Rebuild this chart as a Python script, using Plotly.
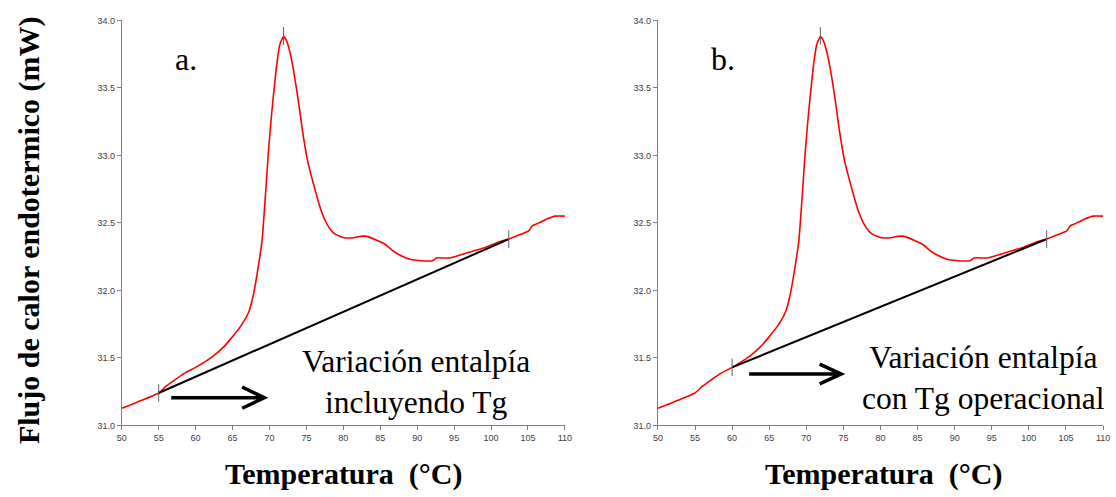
import plotly.graph_objects as go

# ---- data ----
temp = [50, 52, 55, 56, 57, 58.3, 60, 62.3, 63.6, 64.9, 66.3, 67.2, 67.8, 68.5, 69.0, 69.4,
        69.85, 70.3, 70.7, 71.05, 71.4, 71.9, 72.3, 72.75, 73.2, 73.9, 74.5, 75.2, 76.1, 77.0,
        77.9, 78.8, 80.1, 81.4, 82.3, 83.2, 84.6, 85.7, 86.8, 87.7, 89.0, 90.4, 92.1, 92.6,
        94.4, 95.7, 97.5, 99.3, 101.1, 102.4, 103.75, 105.1, 105.6, 106.5, 107.6, 108.7, 110]
flux = [31.126, 31.17, 31.24, 31.29, 31.33, 31.38, 31.43, 31.51, 31.57, 31.65, 31.75, 31.84,
        31.96, 32.18, 32.37, 32.66, 33.02, 33.31, 33.53, 33.70, 33.82, 33.88, 33.85, 33.77,
        33.65, 33.41, 33.17, 32.95, 32.76, 32.59, 32.48, 32.42, 32.39, 32.39, 32.40, 32.40,
        32.37, 32.34, 32.29, 32.26, 32.23, 32.22, 32.22, 32.24, 32.24, 32.26, 32.29, 32.32,
        32.36, 32.38, 32.41, 32.44, 32.48, 32.50, 32.53, 32.55, 32.55]

baseline_a_x = [55, 102.4]
baseline_a_y = [31.24, 32.38]
baseline_b_x = [60, 102.4]
baseline_b_y = [31.43, 32.38]
peak_x = 71.9
peak_y = 33.87

x_ticks = list(range(50, 111, 5))
y_ticks = [31.0, 31.5, 32.0, 32.5, 33.0, 33.5, 34.0]
panel_labels = ["a.", "b."]
notes = ["Variación entalpía<br>incluyendo Tg", "Variación entalpía<br>con Tg operacional"]
x_title = "Temperatura  (°C)"
y_title = "Flujo de calor endotermico (mW)"

W, H = 1116, 497
def px(x):
    return x / W
def py(y):
    return 1 - y / H

fig = go.Figure()

RED = "#ff0000"
TICKGRAY = "#606060"
half = 0.065

for i, (bx, by) in enumerate([(baseline_a_x, baseline_a_y), (baseline_b_x, baseline_b_y)]):
    xa = "x" if i == 0 else "x2"
    ya = "y" if i == 0 else "y2"
    fig.add_trace(go.Scatter(x=temp, y=flux, mode="lines", xaxis=xa, yaxis=ya,
                             line=dict(color=RED, width=1.6, shape="spline", smoothing=0.5),
                             showlegend=False, hoverinfo="skip"))
    fig.add_trace(go.Scatter(x=bx, y=by, mode="lines", xaxis=xa, yaxis=ya,
                             line=dict(color="black", width=2), showlegend=False, hoverinfo="skip"))
    mx, my = [], []
    for (tx, ty) in [(bx[0], by[0]), (bx[1], by[1])]:
        mx += [tx, tx, None]
        my += [ty - half, ty + half, None]
    mx += [peak_x, peak_x, None]
    my += [peak_y - 0.05, peak_y + 0.08, None]
    fig.add_trace(go.Scatter(x=mx, y=my, mode="lines", xaxis=xa, yaxis=ya,
                             line=dict(color=TICKGRAY, width=1), showlegend=False, hoverinfo="skip"))

axis_common = dict(showgrid=False, zeroline=False, showline=True, linecolor="#808080", linewidth=1,
                   ticks="outside", ticklen=4, tickcolor="#808080",
                   tickfont=dict(family="Liberation Sans", size=9, color="#404040"))

y_dom = [py(429), py(15.7)]
fig.update_layout(
    width=W, height=H, margin=dict(l=0, r=0, t=0, b=0),
    paper_bgcolor="white", plot_bgcolor="white",
    xaxis=dict(domain=[px(118), px(566)], range=[50, 110], tickvals=x_ticks, anchor="y", **axis_common),
    yaxis=dict(domain=y_dom, range=[31, 34], tickvals=y_ticks, tickformat=".1f", anchor="x", **axis_common),
    xaxis2=dict(domain=[px(660), px(1110)], range=[50, 110], tickvals=x_ticks, anchor="y2", **axis_common),
    yaxis2=dict(domain=y_dom, range=[31, 34], tickvals=y_ticks, tickformat=".1f", anchor="x2", **axis_common),
)

serif = "Liberation Serif"
def note(text, x, y, size, angle=0):
    return dict(text=text, x=px(x), y=py(y), xref="paper", yref="paper",
                xanchor="center", yanchor="middle", showarrow=False, align="center",
                textangle=angle, font=dict(family=serif, size=size, color="black"))

ann = [
    note(panel_labels[0], 183, 55, 32),
    note(panel_labels[1], 726, 55, 32),
    note(notes[0], 415, 385, 31.5),
    note(notes[1], 989, 381, 31.5),
    note("<b>" + x_title + "</b>", 343, 479, 30),
    note("<b>" + x_title + "</b>", 889, 479, 30),
    note("<b>" + y_title + "</b>", 25, 230, 30, angle=-90),
]
fig.update_layout(annotations=ann)

# arrows (open chevron heads)
shapes = [
    dict(type="path", xref="x", yref="y",
         path="M 56.7,31.204 L 69.2,31.204 M 66.3,31.284 L 69.3,31.204 L 66.3,31.127",
         line=dict(color="black", width=3.5)),
    dict(type="path", xref="x2", yref="y2",
         path="M 62.3,31.38 L 74.6,31.38 M 71.8,31.453 L 74.7,31.38 L 71.8,31.307",
         line=dict(color="black", width=3.5)),
]
fig.update_layout(shapes=shapes)

fig.write_html("out.html")
